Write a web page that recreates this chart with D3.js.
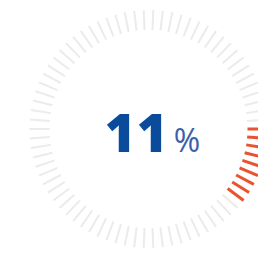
<!DOCTYPE html>
<html>
  <head>
	<meta charset="utf-8">
	<title>Gauge</title>
	<style>
	  html, body { margin: 0; padding: 0; background: #fff; }
	  svg { display: block; }
	</style>
  </head>
  <body>
	<div id="chart"></div>
	<script src="https://d3js.org/d3.v7.min.js"></script>
	<script>
	  (function(d3) {
		'use strict';

		// value shown in the gauge (percent)
		var values = [11];
		var labels = ['11', '%'];
		var tickCount = 78;
		var startDeg = 90; // gauge starts at 3 o'clock

		var width = 258;
		var height = 254;
		var cx = 148.5, cy = 129;
		var outerR = 119, innerR = 99;

		var svg = d3.select('#chart')
		  .append('svg')
		  .attr('width', width)
		  .attr('height', height);

		var g = svg.append('g')
		  .attr('transform', 'translate(' + cx + ',' + cy + ')');

		var angle = d3.scaleLinear()
		  .domain([0, tickCount])
		  .range([0, 360]);

		var pct = d3.scaleLinear()
		  .domain([0, 100])
		  .range([0, 360]);

		var ticks = d3.range(tickCount).map(function(k) {
		  var a = angle(k + 0.5);
		  var rel = (a - startDeg + 360) % 360;
		  return { a: a, on: rel < pct(values[0]) };
		});

		g.selectAll('line.tick')
		  .data(ticks)
		  .enter()
		  .append('line')
		  .attr('class', 'tick')
		  .attr('x1', 0)
		  .attr('x2', 0)
		  .attr('y1', -innerR)
		  .attr('y2', -outerR)
		  .attr('transform', function(d) { return 'rotate(' + d.a + ')'; })
		  .attr('stroke', function(d) { return d.on ? '#e9532f' : '#ebebeb'; })
		  .attr('stroke-width', function(d) { return d.on ? 3 : 2; });

		var txt = svg.append('text')
		  .attr('x', cx + 4)
		  .attr('y', 152)
		  .attr('text-anchor', 'middle')
		  .style('font-family', '"Open Sans", sans-serif');

		txt.append('tspan')
		  .text(labels[0])
		  .style('font-size', '53px')
		  .style('font-weight', 800)
		  .style('letter-spacing', '1px')
		  .attr('fill', '#0b4b9b');

		txt.append('tspan')
		  .text(labels[1])
		  .attr('dx', 5)
		  .style('font-size', '32px')
		  .style('font-weight', 400)
		  .attr('fill', '#3d5fab');

	  })(window.d3);
	</script>
  </body>
</html>
